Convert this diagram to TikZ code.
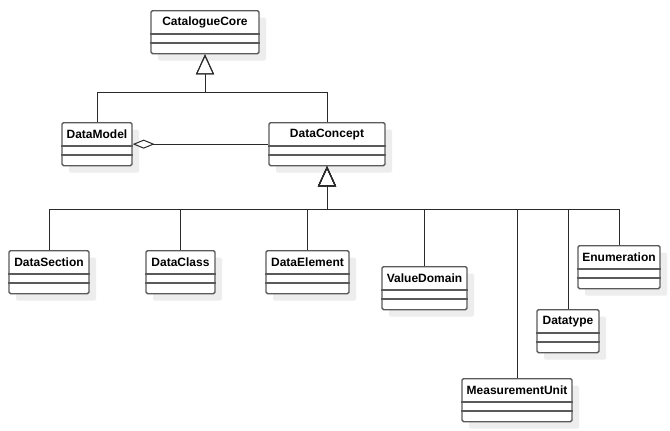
\documentclass[tikz,border=0pt]{standalone}
\usepackage{fontspec}
\setmainfont{Liberation Sans}
\usetikzlibrary{arrows.meta,shadows,calc}
\definecolor{boxc}{HTML}{5A5A5A}
\definecolor{linec}{HTML}{2A2A2A}
\definecolor{shadc}{HTML}{EDEDED}
\tikzset{
  cls/.style={draw=boxc, line width=1.3pt, rounded corners=1.5pt, fill=white,
    minimum height=43pt, inner sep=0pt,
    drop shadow={shadow xshift=7pt, shadow yshift=-7pt, fill=shadc, opacity=1}},
  ttl/.style={font=\fontsize{12}{14}\selectfont\bfseries, inner sep=0pt, anchor=center},
  divline/.style={draw=boxc, line width=1.1pt},
  gen/.style={draw=linec, line width=1pt,
    -{Triangle[open, length=20pt, width=18pt, line width=1pt]}},
  agg/.style={draw=linec, line width=1pt,
    -{Diamond[open, length=22pt, width=9pt, line width=1pt]}},
}
\newcommand{\umlclass}[5]{%
  \node[cls, minimum width=#4pt, anchor=north] (#1) at (#2,#3) {};
  \node[ttl] (#1t) at ($(#1.north)+(0,-12.5pt)$) {#5};
  \draw[divline] ($(#1.north west)+(0,-24pt)$) -- ($(#1.north east)+(0,-24pt)$);
  \draw[divline] ($(#1.north west)+(0,-33pt)$) -- ($(#1.north east)+(0,-33pt)$);
}
\begin{document}
\begin{tikzpicture}[x=1pt,y=-1pt]
\useasboundingbox[fill=white] (0,0) rectangle (670,431);
\umlclass{cc}{205}{10}{108}{CatalogueCore}
\umlclass{dm}{97}{122}{70}{DataModel}
\umlclass{dc}{327}{122}{116}{DataConcept}
\umlclass{ds}{49}{250}{80}{DataSection}
\umlclass{dcl}{180.5}{250}{69}{DataClass}
\umlclass{de}{307.5}{250}{83}{DataElement}
\umlclass{vd}{424.5}{266}{85}{ValueDomain}
\umlclass{en}{619}{245}{82}{Enumeration}
\umlclass{dt}{568}{309}{62}{Datatype}
\umlclass{mu}{517}{378}{110}{MeasurementUnit}
\coordinate (topbar) at (205,92);
\coordinate (botbar) at (327,209);
\draw[gen] (dm.north) |- (topbar) -- (cc.south);
\draw[gen] (dc.north) |- (topbar) -- (cc.south);
\draw[agg] (dc.west) -- (dm.east);
\foreach \c in {ds,dcl,de,vd,mu,dt,en}{
  \draw[gen] (\c.north) |- (botbar) -- (dc.south);
}
\end{tikzpicture}
\end{document}
